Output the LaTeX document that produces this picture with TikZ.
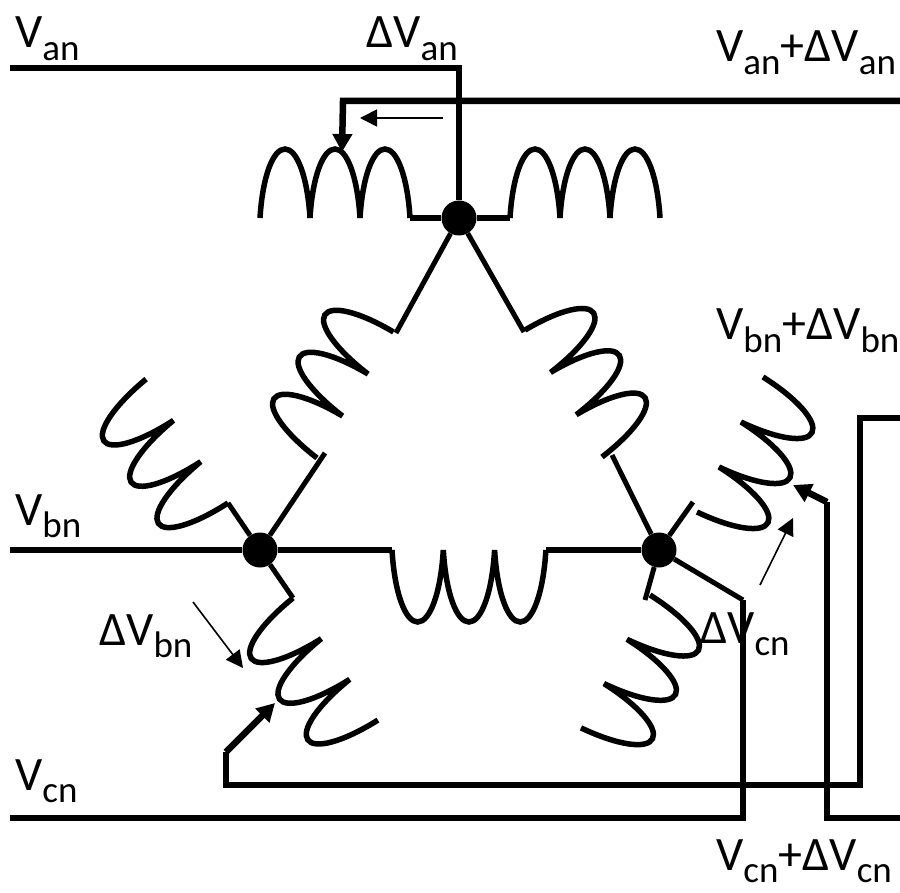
\documentclass[tikz,border=0pt]{standalone}
\usepackage{fontspec}
\setmainfont{Carlito}
\usepackage{tikz}
\usetikzlibrary{arrows.meta}
\newcommand{\subtxt}[1]{\raisebox{-0.27em}{\fontsize{37}{40}\selectfont #1}}
\newcommand{\coil}[6]{%
  \draw[coilline, shift={(#1,#2)}, x={(#3*1pt,-1pt*#4)}, y={(#5*1pt,-1pt*#6)}]
    (0,0) .. controls (0.05,0.6) and (0.26,1) .. (0.5,1)
    .. controls (0.74,1) and (0.95,0.6) .. (1,0)
    .. controls (1.05,0.6) and (1.26,1) .. (1.5,1)
    .. controls (1.74,1) and (1.95,0.6) .. (2,0)
    .. controls (2.05,0.6) and (2.26,1) .. (2.5,1)
    .. controls (2.74,1) and (2.95,0.6) .. (3,0);
}
\tikzset{
    wire/.style={
        line width=6.5pt,
        line join=miter
    },
    coilline/.style={
        line width=5.5pt
    },
    lead/.style={
        line width=5pt
    },
    junction/.style={
        circle,
        fill=black,
        inner sep=0pt,
        minimum size=35pt
    },
    tap/.style={
        wire,
        -{Triangle[length=18pt,width=19pt]}
    },
    sense/.style={
        line width=1.6pt,
        -{Triangle[length=17pt,width=17pt]}
    },
    volt/.style={
        font=\fontsize{48}{52}\selectfont,
        anchor=base west,
        inner sep=0pt
    }
}
\begin{document}
\begin{tikzpicture}[x=1pt,y=-1pt]
  \useasboundingbox (0,0) rectangle (900,893);

  % Junctions
  \node[junction] (ja) at (459,218) {};
  \node[junction] (jb) at (260,550) {};
  \node[junction] (jc) at (659,550) {};

  % Coil ends
  \coordinate (acoilL) at (410,218);
  \coordinate (acoilR) at (510,218);
  \coordinate (abL) at (396,333);
  \coordinate (baT) at (325,453);
  \coordinate (acR) at (524,332);
  \coordinate (caT) at (612,455);
  \coordinate (bcL) at (392,550);
  \coordinate (bcR) at (546,550);
  \coordinate (bUp) at (228,503);
  \coordinate (bDown) at (293,598);
  \coordinate (cUp) at (693,502);
  \coordinate (cDown) at (645,600);

  % Windings
  \coil{260}{218}{50}{0}{0}{-69}
  \coil{510}{218}{50}{0}{0}{-69}
  \coil{392}{550}{51.3}{0}{0}{72}
  \coil{317}{458}{25.5}{-42}{-56}{-38}
  \coil{602}{457}{-25.7}{-42.3}{56}{-38}
  \coil{228}{503}{-27.3}{-41.3}{-56}{41}
  \coil{293}{598}{28.3}{40.7}{-56}{40}
  \coil{697}{512}{22}{-45}{60}{33}
  \coil{650}{595}{-23}{44.3}{60}{33}

  % Leads at the junctions
  \draw[lead] (ja) -- (abL);
  \draw[lead] (ja) -- (acR);
  \draw[lead] (jb) -- (baT);
  \draw[lead] (jc) -- (caT);
  \draw[lead] (jb) -- (bUp);
  \draw[lead] (jb) -- (bDown);
  \draw[lead] (jc) -- (cUp);
  \draw[lead] (jc) -- (cDown);
  \draw[wire] (acoilL) -- (ja) -- (acoilR);
  \draw[wire] (jb) -- (bcL);
  \draw[wire] (bcR) -- (jc);

  % Lines
  \coordinate (vaIn) at (10,68);
  \coordinate (vaCorner) at (459,68);
  \coordinate (vbIn) at (10,550);
  \coordinate (vcIn) at (10,818);
  \coordinate (vcCorner) at (743,818);
  \coordinate (vcTop) at (743,600);
  \draw[wire] (vaIn) -- (vaCorner) -- (ja);
  \draw[wire] (vbIn) -- (jb);
  \draw[wire] (vcIn) -- (vcCorner) -- (vcTop);
  \draw[lead] (jc) -- (vcTop);

  % Tap outputs
  \coordinate (vaOut) at (900,101);
  \coordinate (vaTap) at (343,101);
  \coordinate (vaTip) at (342,152);
  \draw[tap] (vaOut) -- (vaTap) -- (vaTip);

  \coordinate (vbOut) at (900,418);
  \coordinate (vbC1) at (860,418);
  \coordinate (vbC2) at (860,785);
  \coordinate (vbC3) at (226,785);
  \coordinate (vbC4) at (226,752);
  \coordinate (vbTip) at (275,703);
  \draw[wire] (vbOut) -- (vbC1) -- (vbC2) -- (vbC3) -- (vbC4);
  \draw[tap] (vbC4) -- (vbTip);

  \coordinate (vcOut) at (900,818);
  \coordinate (vcC1) at (827,818);
  \coordinate (vcC2) at (827,502);
  \coordinate (vcTip) at (793,485);
  \draw[wire] (vcOut) -- (vcC1) -- (vcC2);
  \draw[tap] (vcC2) -- (vcTip);

  % Direction arrows
  \coordinate (daS) at (443,118);
  \coordinate (daE) at (360,118);
  \coordinate (dbS) at (193,602);
  \coordinate (dbE) at (243,668);
  \coordinate (dcS) at (760,585);
  \coordinate (dcE) at (793,518);
  \draw[sense] (daS) -- (daE);
  \draw[sense] (dbS) -- (dbE);
  \draw[sense] (dcS) -- (dcE);

  % Labels
  \node[volt] (lva) at (15,48) {V\subtxt{an}};
  \node[volt] (lda) at (366,48) {ΔV\subtxt{an}};
  \node[volt] (lvad) at (716,62) {V\subtxt{an}+ΔV\subtxt{an}};
  \node[volt] (lvbd) at (716,340) {V\subtxt{bn}+ΔV\subtxt{bn}};
  \node[volt] (lvb) at (15,525) {V\subtxt{bn}};
  \node[volt] (ldb) at (99,645) {ΔV\subtxt{bn}};
  \node[volt] (ldc) at (700,643) {ΔV\subtxt{cn}};
  \node[volt] (lvc) at (15,790) {V\subtxt{cn}};
  \node[volt] (lvcd) at (716,870) {V\subtxt{cn}+ΔV\subtxt{cn}};
\end{tikzpicture}
\end{document}
